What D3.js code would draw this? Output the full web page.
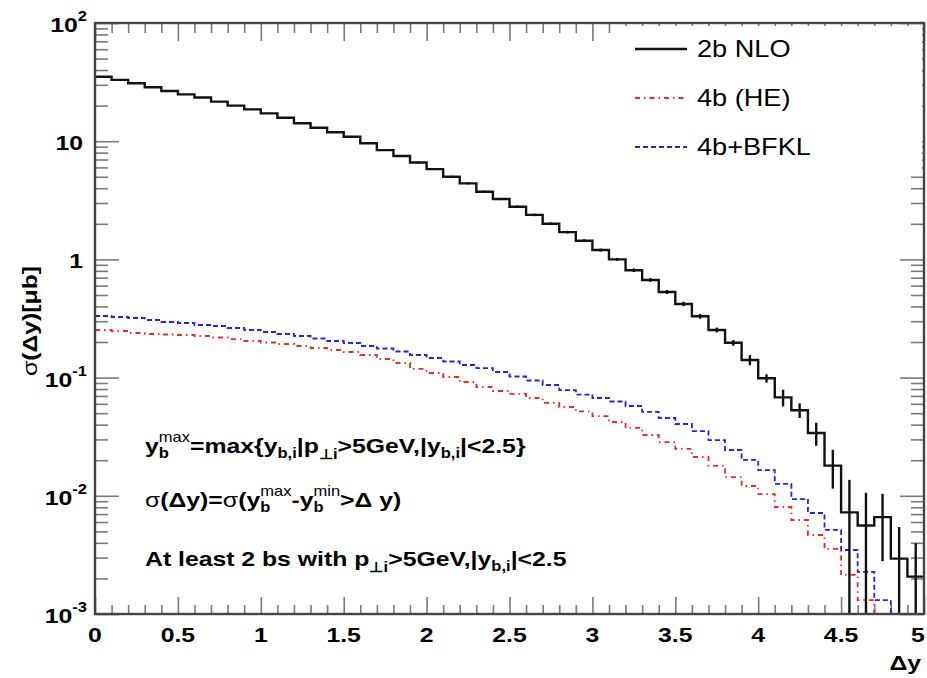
<!DOCTYPE html>
<html><head><meta charset="utf-8">
<script src="https://cdn.jsdelivr.net/npm/d3@7"></script>
<style>body{margin:0;background:#fff}</style>
</head><body>
<svg id="c" width="927" height="678"></svg>
<script>
// ---------------- data ----------------
const binCenters = [0.05,0.15,0.25,0.35,0.45,0.55,0.65,0.75,0.85,0.95,
  1.05,1.15,1.25,1.35,1.45,1.55,1.65,1.75,1.85,1.95,
  2.05,2.15,2.25,2.35,2.45,2.55,2.65,2.75,2.85,2.95,
  3.05,3.15,3.25,3.35,3.45,3.55,3.65,3.75,3.85,3.95,
  4.05,4.15,4.25,4.35,4.45,4.55,4.65,4.75,4.85,4.95];
const binWidth = 0.1;
const nlo2b = [35.1,33.0,30.9,28.6,26.6,24.9,23.4,21.6,20.0,18.6,
  17.2,15.8,14.2,13.0,11.9,10.9,9.6,8.4,7.5,6.6,
  5.8,5.0,4.4,3.74,3.24,2.79,2.38,2.0,1.70,1.44,
  1.20,1.0,0.81,0.67,0.53,0.42,0.33,0.253,0.197,0.141,
  0.0986,0.068,0.053,0.034,0.018,0.00724,0.0056,0.0066,0.00294,0.00207];
const nlo2bErr = [0.3,0.3,0.3,0.3,0.3,0.3,0.3,0.25,0.25,0.25,
  0.22,0.2,0.2,0.18,0.17,0.16,0.15,0.14,0.13,0.12,
  0.11,0.1,0.09,0.08,0.07,0.065,0.06,0.05,0.045,0.04,
  0.035,0.03,0.028,0.024,0.021,0.018,0.015,0.012,0.011,0.014,
  0.008,0.011,0.0075,0.0075,0.0065,0.0064,0.005,0.0038,0.0025,0.0019];
const he4b = [0.2528,0.2479,0.2384,0.2338,0.2315,0.2293,0.2248,0.2183,0.2120,0.2040,
  0.1981,0.1924,0.1851,0.1780,0.1712,0.1647,0.1553,0.1437,0.1329,0.1183,
  0.1094,0.1012,0.0918,0.0833,0.0770,0.0727,0.0672,0.0610,0.0564,0.0517,
  0.0473,0.0421,0.0375,0.0327,0.0285,0.0249,0.0213,0.0179,0.0144,0.0121,
  0.01035,0.00804,0.00624,0.00466,0.00355,0.00214,0.00131,0.0005,0.0004,0.0003];
const bfkl4b = [0.332,0.3256,0.3193,0.3071,0.2954,0.2897,0.2786,0.2733,0.2628,0.2528,
  0.2431,0.2338,0.2248,0.2142,0.2040,0.1962,0.1851,0.1763,0.1663,0.1553,
  0.1465,0.1368,0.1278,0.1205,0.1115,0.1022,0.0945,0.0866,0.0785,0.0719,
  0.0672,0.0628,0.0575,0.0512,0.0455,0.0405,0.0353,0.0296,0.0244,0.0201,
  0.0165,0.0126,0.00939,0.00715,0.00514,0.00348,0.00227,0.00131,0.0005,0.0004];
const seriesNames = ["2b NLO","4b (HE)","4b+BFKL"];
const xTickValues = [0,0.5,1,1.5,2,2.5,3,3.5,4,4.5,5];
const xTickLabels = ["0","0.5","1","1.5","2","2.5","3","3.5","4","4.5","5"];
const yTickValues = [1e-3,1e-2,1e-1,1,10,100];
const yTickBase = ["10","10","10","1","10","10"];
const yTickExp = ["-3","-2","-1","","","2"];

// ---------------- setup ----------------
const SX = 1.18;
const FONT = "'Liberation Sans', Arial, Helvetica, sans-serif";
const TICK = "#7a7a7a";
const svg = d3.select("#c");
svg.append("rect").attr("width",927).attr("height",678).attr("fill","#fff");
const L = 95, R = 924, T = 23, B = 614;
const x = d3.scaleLinear().domain([0,5]).range([L,R]);
const y = d3.scaleLog().domain([1e-3,1e2]).range([B,T]);
const yc = v => Math.min(y(Math.max(v,1e-6)), B);

// ---------------- ticks ----------------
const xMinor = d3.range(0,51).map(i=>i/10).filter(v=>Math.abs(v*2-Math.round(v*2))>1e-6);
const yMinor = [];
[-3,-2,-1,0,1].forEach(e=>{for(let k=2;k<=9;k++) yMinor.push(k*Math.pow(10,e));});
function ticks(axisFn, scale, vals, size, tr){
  const g = svg.append("g").attr("transform",tr)
    .call(axisFn(scale).tickValues(vals).tickSize(size).tickFormat(""));
  g.select(".domain").remove();
  g.selectAll("text").remove();
  g.selectAll("line").attr("stroke",TICK).attr("stroke-width",1.6);
}
ticks(d3.axisBottom,x,xTickValues,-17,`translate(0,${B})`);
ticks(d3.axisBottom,x,xMinor,-9,`translate(0,${B})`);
ticks(d3.axisTop,x,xTickValues,-18,`translate(0,${T})`);
ticks(d3.axisTop,x,xMinor,-10,`translate(0,${T})`);
ticks(d3.axisLeft,y,yTickValues,-24,`translate(${L},0)`);
ticks(d3.axisLeft,y,yMinor,-13,`translate(${L},0)`);
ticks(d3.axisRight,y,yTickValues,-24,`translate(${R},0)`);
ticks(d3.axisRight,y,yMinor,-13,`translate(${R},0)`);

// ---------------- histograms ----------------
function histPoints(vals){
  const pts=[];
  vals.forEach((v,i)=>{
    const lo=binCenters[i]-binWidth/2, hi=binCenters[i]+binWidth/2;
    pts.push([x(lo),yc(v)],[x(hi),yc(v)]);
  });
  return pts;
}
const line = d3.line();
svg.append("path").attr("d",line(histPoints(he4b))).attr("fill","none")
  .attr("stroke","#ff2020").attr("stroke-width",1.8).attr("stroke-dasharray","5 4 1.5 4");
svg.append("path").attr("d",line(histPoints(bfkl4b))).attr("fill","none")
  .attr("stroke","#2020ff").attr("stroke-width",1.8).attr("stroke-dasharray","5 3");
svg.append("path").attr("d",line(histPoints(nlo2b))).attr("fill","none")
  .attr("stroke","#111").attr("stroke-width",2.4);
svg.append("g").selectAll("line").data(nlo2b).join("line")
  .attr("x1",(d,i)=>x(binCenters[i])).attr("x2",(d,i)=>x(binCenters[i]))
  .attr("y1",(d,i)=>yc(d+nlo2bErr[i]))
  .attr("y2",(d,i)=>d-nlo2bErr[i]>0?yc(d-nlo2bErr[i]):B)
  .attr("stroke","#111").attr("stroke-width",2.4);

// ---------------- legend box (covers ticks) ----------------
svg.append("rect").attr("x",612).attr("y",26).attr("width",310).attr("height",149).attr("fill","#fff");

// ---------------- frame ----------------
svg.append("rect").attr("x",L).attr("y",T).attr("width",R-L).attr("height",B-T)
  .attr("fill","none").attr("stroke","#444").attr("stroke-width",2.4);

// ---------------- text helpers ----------------
function rich(x0,y0,pieces,anchor,rot){
  const g = svg.append("g");
  const inner = g.append("g");
  let cx=0, pStart=0, pEnd=0;
  pieces.forEach(p=>{
    const sx = p.stack? pStart : cx;
    const t = inner.append("text").attr("x",sx).attr("y",p.dy||0)
      .style("font-family",p.f||FONT).style("font-size",(p.s||21)+"px")
      .style("font-weight",p.w||"bold").attr("fill","#000").text(p.t);
    const w = t.node().getComputedTextLength();
    if(p.stack){ cx=Math.max(pEnd,sx+w); pEnd=cx; }
    else { pStart=sx; pEnd=sx+w; cx=pEnd; }
  });
  let off = 0;
  if(anchor==="end") off=-cx; else if(anchor==="middle") off=-cx/2;
  inner.attr("transform",`translate(${off},0)`);
  g.attr("transform",`translate(${x0},${y0})${rot?` rotate(${rot})`:""} scale(${SX},1)`);
  return g;
}

// x tick labels
xTickValues.forEach((v,i)=>rich(Math.min(x(v),918),642,[{t:xTickLabels[i]}],"middle"));
// y tick labels
yTickValues.forEach((v,i)=>{
  const p=[{t:yTickBase[i]}];
  if(yTickExp[i]) p.push({t:yTickExp[i],s:14,dy:-11});
  rich(yTickExp[i]?87:83, y(v)+9, p, "end");
});
// axis titles
rich(921,670,[{t:"Δy"}],"end");
rich(37,321,[{t:"σ",w:"normal"},{t:"(Δy)[μb]"}],"middle",-90);

// legend
const legY=[49,98,147], legBase=[57,106,155];
const legStyle=[{c:"#111",w:2.4,d:null},{c:"#ff2020",w:1.8,d:"5 4 1.5 4"},{c:"#2020ff",w:1.8,d:"5 3"}];
seriesNames.forEach((n,i)=>{
  const ln=svg.append("line").attr("x1",635).attr("x2",687).attr("y1",legY[i]).attr("y2",legY[i])
    .attr("stroke",legStyle[i].c).attr("stroke-width",legStyle[i].w);
  if(legStyle[i].d) ln.attr("stroke-dasharray",legStyle[i].d);
  rich(697,legBase[i],[{t:n,w:"normal",s:23}],"start");
});

// annotations
const SUB=14;
rich(145,453,[
  {t:"y"},{t:"b",s:SUB,dy:5},{t:"max",s:SUB,dy:-11,w:"normal",stack:true},
  {t:"=max{y"},{t:"b,i",s:SUB,dy:5},{t:"|p"},{t:"⊥i",s:SUB,dy:6},
  {t:">5GeV,|y"},{t:"b,i",s:SUB,dy:5},{t:"|<2.5}"}
],"start");
rich(145,507,[
  {t:"σ",w:"normal"},{t:"(Δy)="},{t:"σ",w:"normal"},{t:"(y"},
  {t:"b",s:SUB,dy:5},{t:"max",s:SUB,dy:-11,w:"normal",stack:true},
  {t:"-y"},{t:"b",s:SUB,dy:5},{t:"min",s:SUB,dy:-11,w:"normal",stack:true},
  {t:">Δ y)"}
],"start");
rich(145,566,[
  {t:"At least 2 bs with p"},{t:"⊥i",s:SUB,dy:6},{t:">5GeV,|y"},{t:"b,i",s:SUB,dy:5},{t:"|<2.5"}
],"start");
</script>
</body></html>
